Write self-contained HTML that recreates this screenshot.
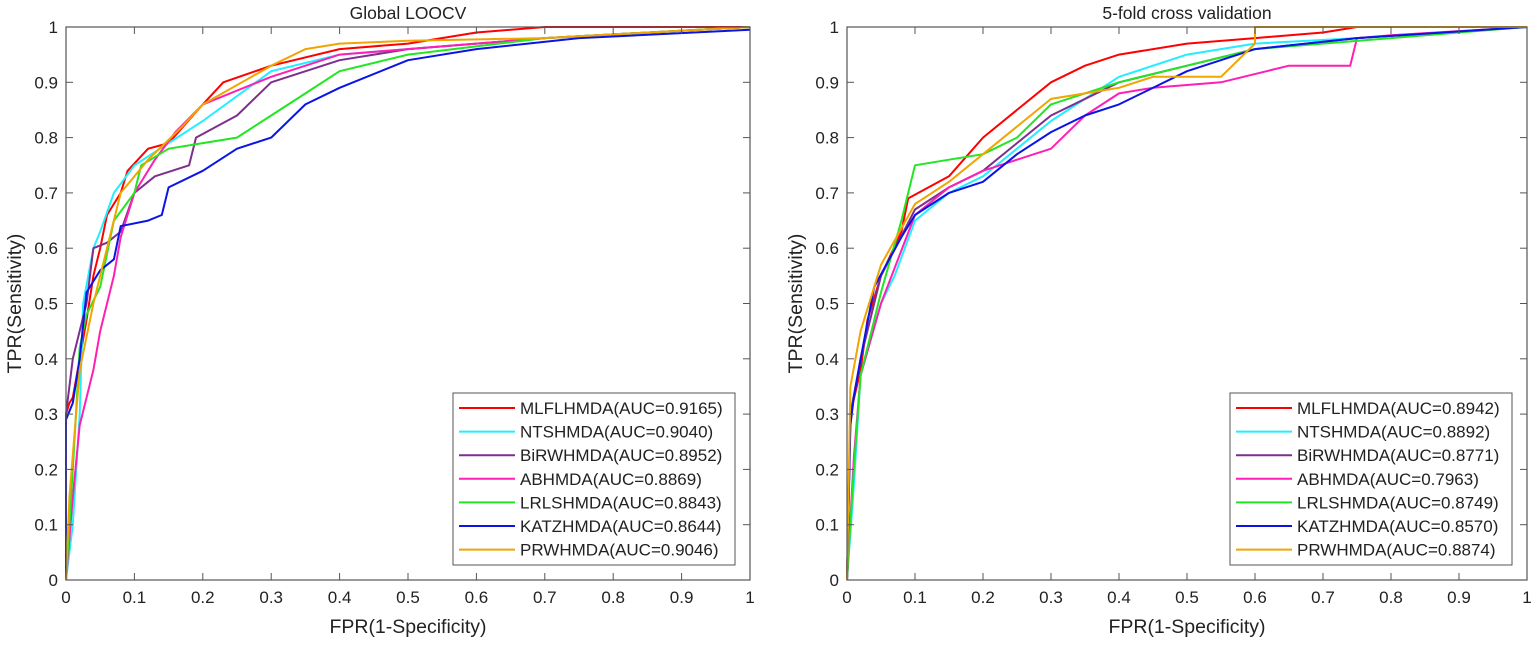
<!DOCTYPE html>
<html><head><meta charset="utf-8"><style>
html,body{margin:0;padding:0;background:#fff;}
svg{display:block;font-family:"Liberation Sans",Arial,sans-serif;}
</style></head><body>
<svg id="fig" width="1535" height="646" viewBox="0 0 1535 646"></svg>
<script>
const seriesNames = ["MLFLHMDA","NTSHMDA","BiRWHMDA","ABHMDA","LRLSHMDA","KATZHMDA","PRWHMDA"];
const seriesColors = ["#ff0000","#22eeff","#7e2f8e","#ff1fb4","#22e622","#0a14e6","#f0a500"];
const ticks = [0,0.1,0.2,0.3,0.4,0.5,0.6,0.7,0.8,0.9,1];
const tickLabels = ["0","0.1","0.2","0.3","0.4","0.5","0.6","0.7","0.8","0.9","1"];
const aucLeft = ["0.9165","0.9040","0.8952","0.8869","0.8843","0.8644","0.9046"];
const aucRight = ["0.8942","0.8892","0.8771","0.7963","0.8749","0.8570","0.8874"];
const leftRed = [[0,0],[0,0.3],[0.005,0.32],[0.01,0.33],[0.02,0.4],[0.03,0.47],[0.04,0.55],[0.05,0.6],[0.06,0.66],[0.08,0.7],[0.09,0.74],[0.12,0.78],[0.15,0.79],[0.2,0.86],[0.23,0.9],[0.3,0.93],[0.4,0.96],[0.5,0.97],[0.6,0.99],[0.7,1],[1,1]];
const leftCyan = [[0,0],[0.01,0.1],[0.02,0.3],[0.025,0.5],[0.04,0.6],[0.05,0.63],[0.07,0.7],[0.1,0.75],[0.15,0.79],[0.2,0.83],[0.3,0.92],[0.4,0.95],[0.5,0.96],[0.7,0.98],[1,1]];
const leftPurple = [[0,0],[0,0.3],[0.01,0.4],[0.03,0.5],[0.04,0.6],[0.06,0.61],[0.08,0.63],[0.1,0.7],[0.13,0.73],[0.18,0.75],[0.19,0.8],[0.25,0.84],[0.3,0.9],[0.4,0.94],[0.5,0.96],[0.7,0.98],[1,1]];
const leftMagenta = [[0,0],[0.01,0.15],[0.02,0.28],[0.04,0.38],[0.05,0.45],[0.07,0.55],[0.08,0.62],[0.1,0.7],[0.13,0.76],[0.16,0.81],[0.2,0.86],[0.3,0.91],[0.4,0.95],[0.6,0.97],[0.7,0.98],[1,1]];
const leftGreen = [[0,0],[0.01,0.2],[0.02,0.42],[0.03,0.48],[0.05,0.53],[0.07,0.65],[0.1,0.7],[0.11,0.75],[0.15,0.78],[0.2,0.79],[0.25,0.8],[0.3,0.84],[0.35,0.88],[0.4,0.92],[0.5,0.95],[0.7,0.98],[1,1]];
const leftBlue = [[0,0],[0,0.29],[0.01,0.32],[0.02,0.4],[0.03,0.52],[0.05,0.56],[0.07,0.58],[0.08,0.64],[0.12,0.65],[0.14,0.66],[0.15,0.71],[0.2,0.74],[0.25,0.78],[0.3,0.8],[0.35,0.86],[0.4,0.89],[0.5,0.94],[0.6,0.96],[0.75,0.98],[1,0.995]];
const leftOrange = [[0,0],[0.005,0.15],[0.02,0.38],[0.04,0.5],[0.06,0.6],[0.08,0.7],[0.12,0.76],[0.17,0.82],[0.2,0.86],[0.3,0.93],[0.35,0.96],[0.4,0.97],[0.5,0.975],[0.7,0.98],[1,1]];
const rightRed = [[0,0],[0.005,0.3],[0.02,0.38],[0.03,0.47],[0.05,0.55],[0.08,0.63],[0.09,0.69],[0.15,0.73],[0.2,0.8],[0.25,0.85],[0.3,0.9],[0.35,0.93],[0.4,0.95],[0.5,0.97],[0.6,0.98],[0.7,0.99],[0.75,1],[1,1]];
const rightCyan = [[0,0],[0.01,0.17],[0.02,0.37],[0.05,0.5],[0.07,0.55],[0.1,0.65],[0.15,0.7],[0.2,0.73],[0.25,0.78],[0.3,0.83],[0.35,0.87],[0.4,0.91],[0.5,0.95],[0.6,0.97],[0.75,0.98],[1,1]];
const rightPurple = [[0,0],[0.005,0.3],[0.02,0.4],[0.05,0.55],[0.1,0.67],[0.15,0.71],[0.2,0.74],[0.25,0.79],[0.3,0.84],[0.4,0.9],[0.5,0.93],[0.6,0.96],[0.75,0.98],[1,1]];
const rightMagenta = [[0,0],[0.01,0.22],[0.02,0.37],[0.05,0.5],[0.1,0.66],[0.15,0.71],[0.2,0.74],[0.25,0.76],[0.3,0.78],[0.35,0.84],[0.4,0.88],[0.45,0.89],[0.55,0.9],[0.65,0.93],[0.74,0.93],[0.75,0.98],[0.8,0.985],[1,1]];
const rightGreen = [[0,0],[0.01,0.2],[0.02,0.37],[0.05,0.52],[0.08,0.65],[0.1,0.75],[0.15,0.76],[0.2,0.77],[0.25,0.8],[0.3,0.86],[0.4,0.9],[0.5,0.93],[0.6,0.96],[0.8,0.98],[0.9,0.99],[1,1]];
const rightBlue = [[0,0],[0.005,0.28],[0.01,0.33],[0.02,0.4],[0.04,0.53],[0.08,0.62],[0.1,0.66],[0.15,0.7],[0.2,0.72],[0.25,0.77],[0.3,0.81],[0.35,0.84],[0.4,0.86],[0.5,0.92],[0.6,0.96],[0.75,0.98],[1,1]];
const rightOrange = [[0,0],[0.005,0.35],[0.02,0.45],[0.05,0.57],[0.1,0.68],[0.15,0.72],[0.2,0.77],[0.3,0.87],[0.35,0.88],[0.4,0.89],[0.45,0.91],[0.55,0.91],[0.6,0.97],[0.6,1],[1,1]];
const leftData = [leftRed,leftCyan,leftPurple,leftMagenta,leftGreen,leftBlue,leftOrange];
const rightData = [rightRed,rightCyan,rightPurple,rightMagenta,rightGreen,rightBlue,rightOrange];

const NS="http://www.w3.org/2000/svg";
const svg=document.getElementById('fig');
function mk(tag,attrs,parent){const e=document.createElementNS(NS,tag);for(const k in attrs)e.setAttribute(k,attrs[k]);(parent||svg).appendChild(e);return e;}

function panel(x0,x1,title,data,auc,key){
  const yTop=27,yBot=580;
  const g=mk('g',{});
  
  
  const sx=v=>x0+v*(x1-x0), sy=v=>yBot-v*(yBot-yTop);
  const t=mk('text',{x:(x0+x1)/2,y:19,'text-anchor':'middle','font-size':17.5,fill:'#222'},g);t.textContent=title;
  
  
  data.forEach((s,i)=>{
    const p=mk('polyline',{points:s.map(d=>sx(d[0]).toFixed(1)+','+sy(d[1]).toFixed(1)).join(' '),fill:'none',stroke:seriesColors[i],'stroke-width':2,'stroke-linejoin':'round'},g);
    
    
  });
  mk('rect',{x:x0,y:yTop,width:x1-x0,height:yBot-yTop,fill:'none',stroke:'#555','stroke-width':1.2},g);
  ticks.forEach((v,i)=>{
    const X=sx(v),Y=sy(v);
    mk('line',{x1:X,y1:yBot,x2:X,y2:yBot-7,stroke:'#555'},g);
    mk('line',{x1:X,y1:yTop,x2:X,y2:yTop+7,stroke:'#555'},g);
    mk('line',{x1:x0,y1:Y,x2:x0+7,y2:Y,stroke:'#555'},g);
    mk('line',{x1:x1,y1:Y,x2:x1-7,y2:Y,stroke:'#555'},g);
    const tx=mk('text',{x:X,y:yBot+23,'text-anchor':'middle','font-size':17,fill:'#222'},g);tx.textContent=tickLabels[i];
    
    
    const ty=mk('text',{x:x0-8,y:Y+6,'text-anchor':'end','font-size':17,fill:'#222'},g);ty.textContent=tickLabels[i];
    
    
  });
  const xl=mk('text',{x:(x0+x1)/2,y:633,'text-anchor':'middle','font-size':19.5,fill:'#222'},g);xl.textContent='FPR(1-Specificity)';
  
  
  const yl=mk('text',{x:0,y:0,'text-anchor':'middle','font-size':19.5,fill:'#222',transform:`translate(${x0-45},${(yTop+yBot)/2}) rotate(-90)`},g);yl.textContent='TPR(Sensitivity)';
  
  
  const lx=x1-297,ly=393;
  const lg=mk('g',{},g);
  
  
  mk('rect',{x:lx,y:ly,width:282,height:172,fill:'#fff',stroke:'#555','stroke-width':1},lg);
  seriesNames.forEach((n,i)=>{
    const Y=ly+15+i*23.6;
    const le=mk('g',{},lg);
    
    
    mk('line',{x1:lx+6,y1:Y,x2:lx+62,y2:Y,stroke:seriesColors[i],'stroke-width':2},le);
    const tt=mk('text',{x:lx+67,y:Y+6,'font-size':17,fill:'#222'},le);tt.textContent=n+'(AUC='+auc[i]+')';
  });
}
panel(66,750,'Global LOOCV',leftData,aucLeft,'left');
panel(847,1527,'5-fold cross validation',rightData,aucRight,'right');
</script>
</body></html>
